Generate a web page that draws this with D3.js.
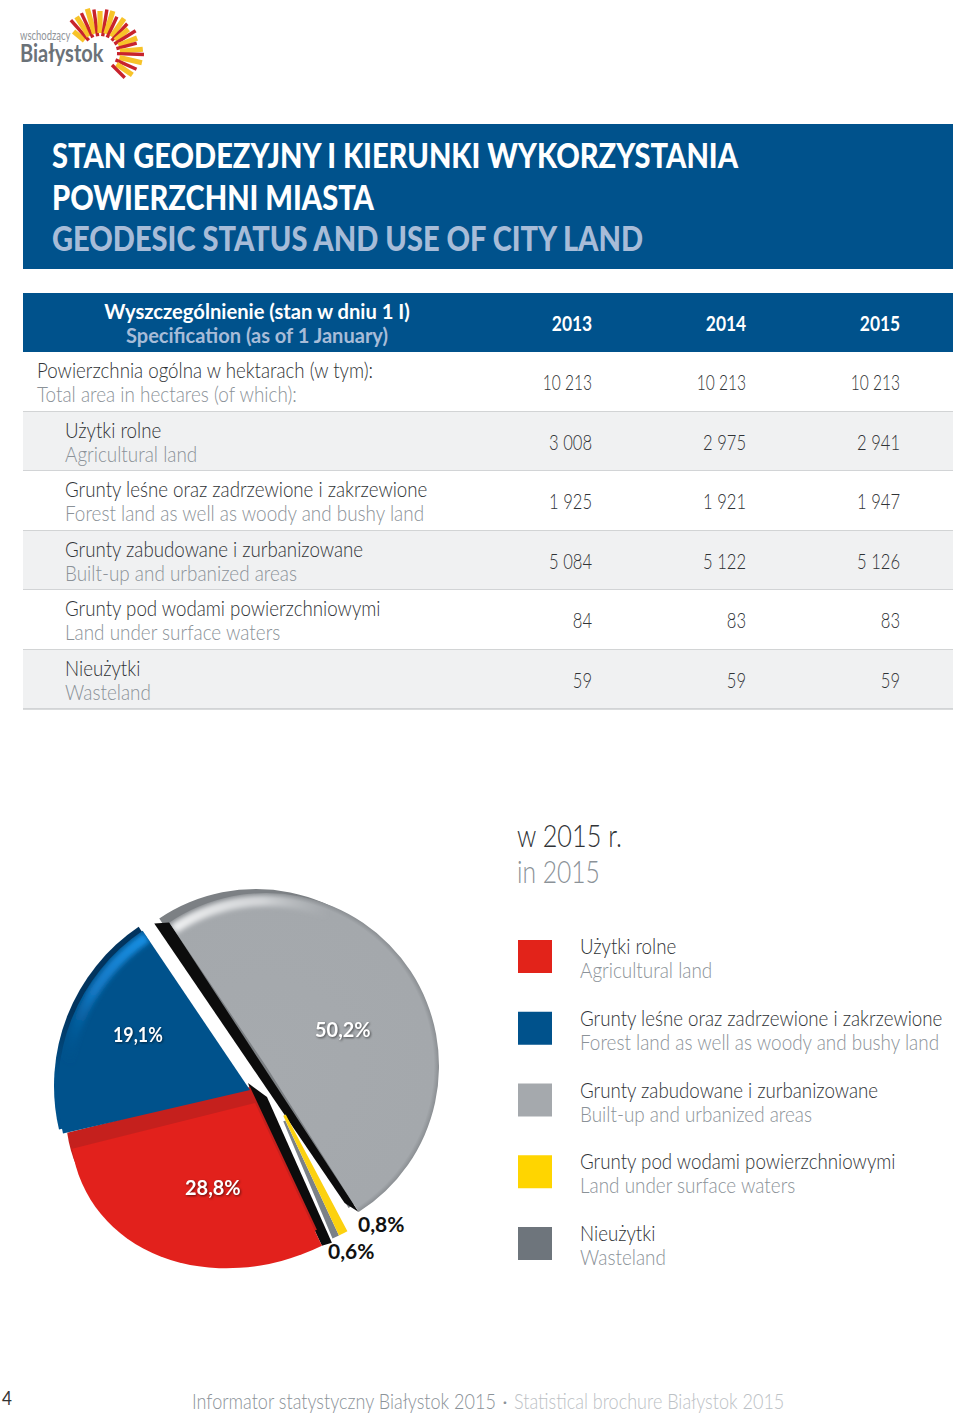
<!DOCTYPE html>
<html><head><meta charset="utf-8">
<script src="https://cdn.jsdelivr.net/npm/d3@7"></script>
<style>html,body{margin:0;padding:0;background:#fff}svg{display:block}text{font-family:Lato,"Noto Sans",sans-serif}</style>
</head><body><svg id="c" width="960" height="1413"></svg>
<script>
const titlePL=["STAN GEODEZYJNY I KIERUNKI WYKORZYSTANIA","POWIERZCHNI MIASTA"];
const titleEN=["GEODESIC STATUS AND USE OF CITY LAND"];
const years=["2013","2014","2015"];
const rowsPL=["Powierzchnia ogólna w hektarach (w tym):","Użytki rolne","Grunty leśne oraz zadrzewione i zakrzewione","Grunty zabudowane i zurbanizowane","Grunty pod wodami powierzchniowymi","Nieużytki"];
const rowsEN=["Total area in hectares (of which):","Agricultural land","Forest land as well as woody and bushy land","Built-up and urbanized areas","Land under surface waters","Wasteland"];
const v2013=["10 213","3 008","1 925","5 084","84","59"];
const v2014=["10 213","2 975","1 921","5 122","83","59"];
const v2015=["10 213","2 941","1 947","5 126","83","59"];
const shares=[50.2,0.8,0.6,28.8,19.1];
const shareLabels=["50,2%","0,8%","0,6%","28,8%","19,1%"];
const legendPL=rowsPL.slice(1);
const legendEN=rowsEN.slice(1);
const rayAngles=[-51,-41.5,-33,-25,-16,-8,0,9,17,25,35,43,50,58,68,75,85,92,103,114,124,135];
const rayOuter=[34,44,43,44,46,44,42,44,44,40,42,40,37,42,40,38,43,44,43,40,39,35];

const BLUE="#00528c",PLC="#303336",ENC="#8b9298",HL="#a7bcd8";
const svg=d3.select("#c");
const defs=svg.append("defs");
const TAU=2*Math.PI;
function txt(g,s,x,y,o={}){
  const k=o.k==null?0.9:o.k;
  return g.append("text").attr("transform",`translate(${x},${y}) scale(${k},1)`).text(s)
    .attr("font-size",o.size||21).attr("fill",o.fill||PLC).attr("font-weight",o.weight||300)
    .attr("text-anchor",o.anchor||"start");
}
// logo
const logo=svg.append("g");
txt(logo,"wschodzący",20,40,{size:12.5,fill:"#8f9499",k:0.76,weight:400});
txt(logo,"Białystok",20,62,{size:25,fill:"#6b7278",weight:700,k:0.8});
const ray=d3.lineRadial();
const logoC=logo.append("g").attr("transform","translate(100,53)");
logoC.selectAll("path").data(rayAngles).join("path")
  .attr("d",(a,i)=>ray([[a*Math.PI/180,i%2?17:20],[a*Math.PI/180,rayOuter[i]]]))
  .attr("stroke",(a,i)=>i%2?"#c8232c":"#f7c329").attr("stroke-width",(a,i)=>i%2?3.4:5.2).attr("fill","none");

// title
svg.append("rect").attr("x",23).attr("y",124).attr("width",930).attr("height",145).attr("fill",BLUE);
titlePL.forEach((s,i)=>txt(svg,s,52,168+i*41.5,{size:35,weight:900,fill:"#fff",k:0.83}));
titleEN.forEach(s=>txt(svg,s,52,251,{size:35,weight:900,fill:HL,k:0.83}));

// table
const rowY=d3.scaleLinear().domain([0,6]).range([352,709]);
const colX=d3.scalePoint().domain(years).range([592,900]);
svg.append("rect").attr("x",23).attr("y",293).attr("width",930).attr("height",59).attr("fill",BLUE);
txt(svg,"Wyszczególnienie (stan w dniu 1 I)",257,319,{size:21,weight:700,fill:"#fff",anchor:"middle",k:0.96});
txt(svg,"Specification (as of 1 January)",257,343,{size:21,weight:700,fill:HL,anchor:"middle",k:0.955});
years.forEach(y=>txt(svg,y,colX(y)-20,331,{size:21,weight:700,fill:"#fff",anchor:"middle",k:0.83}));
const rows=svg.append("g").selectAll("g").data(rowsPL).join("g");
rows.append("rect").attr("x",23).attr("y",(d,i)=>rowY(i)).attr("width",930).attr("height",(d,i)=>rowY(i+1)-rowY(i)).attr("fill",(d,i)=>i%2?"#f0f1f2":"#fff");
rows.append("line").attr("x1",23).attr("x2",953).attr("y1",(d,i)=>rowY(i+1)).attr("y2",(d,i)=>rowY(i+1)).attr("stroke","#b4b7b9").attr("stroke-width",1.2);
rowsPL.forEach((s,i)=>{
  const x=i?65:37,y=rowY(i);
  txt(svg,s,x,y+26,{k:0.892});
  txt(svg,rowsEN[i],x,y+50,{fill:ENC,k:0.9});
  [v2013,v2014,v2015].forEach((arr,j)=>txt(svg,arr[i],colX(years[j]),y+38,{anchor:"end",size:21,k:arr[i].length>5?.74:.79}));
});

// pie
const pie=d3.pie().sort(null).value(d=>d).startAngle(326/360*TAU).endAngle((326+360)/360*TAU);
const [aGray,aYel,aWaste,aRed,aBlue]=pie(shares);
const path=(r)=>d3.arc().innerRadius(0).outerRadius(r);
const pt=(r,ang)=>[r*Math.sin(ang),-r*Math.cos(ang)];
const soft=defs.append("filter").attr("id","soft").attr("x","-20%").attr("y","-20%").attr("width","140%").attr("height","140%");
soft.append("feGaussianBlur").attr("stdDeviation",2.4);
function clip(id,d){defs.append("clipPath").attr("id",id).append("path").attr("d",d);}
function linear(id,x1,y1,x2,y2,stops){
  const g=defs.append("linearGradient").attr("id",id).attr("gradientUnits","userSpaceOnUse").attr("x1",x1).attr("y1",y1).attr("x2",x2).attr("y2",y2);
  stops.forEach(s=>g.append("stop").attr("offset",s[0]).attr("stop-color",s[1]).attr("stop-opacity",s[2]==null?1:s[2]));
}
function radial(id,r,stops){
  const g=defs.append("radialGradient").attr("id",id).attr("gradientUnits","userSpaceOnUse").attr("cx",0).attr("cy",0).attr("r",r);
  stops.forEach(s=>g.append("stop").attr("offset",s[0]).attr("stop-color",s[1]));
}
const P=svg.append("g");
// gray slice
const gc=[266,1066],gr=173;
radial("gGray",gr,[[0,"#a6aaae"],[.97,"#a4a8ac"],[1,"#8a8e92"]]);
linear("gGrayRim",-95,-140,60,-160,[[0,"#f0f1f2",1],[.6,"#dfe1e3",.8],[1,"#c5c8cb",0]]);
clip("cGray",path(gr)(aGray));
const G=P.append("g").attr("transform",`translate(${gc})`);
G.append("path").attr("d",path(gr)(aGray)).attr("transform","translate(-10,-4)").attr("fill","#7c8084");
const g0=pt(gr,aGray.startAngle),g1=pt(gr,aGray.endAngle);
G.append("path").attr("d",d3.line()([[g0[0]-15,g0[1]+1],g0,g1,[g1[0]-14,g1[1]-9]])).attr("fill","#0c0c0c");
G.append("path").attr("d",path(gr)(aGray)).attr("fill","url(#gGray)");
G.append("g").attr("clip-path","url(#cGray)").append("path")
  .attr("d",d3.arc().innerRadius(gr-13).outerRadius(gr-3).startAngle(aGray.startAngle).endAngle(aGray.startAngle+1.0)())
  .attr("fill","url(#gGrayRim)").attr("filter","url(#soft)");
// thin slices, tilted slightly by the picture's perspective
const tC=[260,1066];
P.append("path").attr("transform",`translate(${tC}) rotate(4.5)`).attr("d",d3.arc().innerRadius(60).outerRadius(187)(aWaste)).attr("fill","#7b8187");
// red slice: a pie wedge sheared by the tilt
const rM=[183.2,-8.5,-19.3,165,255,1103];
const rApply=p=>[rM[0]*p[0]+rM[2]*p[1]+rM[4],rM[1]*p[0]+rM[3]*p[1]+rM[5]];
const unitArc=d3.arc().innerRadius(0).outerRadius(1)(aRed);
const rTip=rApply(pt(1,aRed.startAngle));
const rA=rApply([0,0]);
P.append("path").attr("d",d3.line()([[rA[0]-7,rA[1]-20],[rA[0]+12,rA[1]-6],[rTip[0]+10,rTip[1]-3],rTip,rA])).attr("fill","#0c0c0c");
P.append("path").attr("transform",`translate(${tC}) rotate(4.5)`).attr("d",d3.arc().innerRadius(55).outerRadius(187)(aYel)).attr("fill","#fcd10f");
const R=P.append("g");
R.append("path").attr("d",unitArc).attr("transform",`translate(-5,-16) matrix(${rM})`).attr("fill","#c5201d");
R.append("path").attr("d",unitArc).attr("transform",`matrix(${rM})`).attr("fill","#e2211c");
// blue slice
const bc=[250,1090],br=192;
linear("gBlueRim",-100,-170,-170,-20,[[0,"#1b94ea",1],[.55,"#1277c2",1],[1,"#00528c",0]]);
linear("gBlueBack",0,-170,0,-10,[[0,"#02345e"],[.6,"#02345e"],[1,"#00528c"]]);
clip("cBlue",path(br)(aBlue));
const B=P.append("g").attr("transform",`translate(${bc})`);
B.append("path").attr("d",path(br)(aBlue)).attr("transform","translate(-4,-4)").attr("fill","url(#gBlueBack)");
B.append("path").attr("d",path(br)(aBlue)).attr("fill","#00528c");
B.append("g").attr("clip-path","url(#cBlue)").append("path")
  .attr("d",d3.arc().innerRadius(br-13).outerRadius(br-2).startAngle(aBlue.startAngle).endAngle(aBlue.endAngle)())
  .attr("fill","url(#gBlueRim)").attr("filter","url(#soft)");

const label=(s,x,y,fill,shadow,k)=>{
  const t=txt(svg,s,x,y,{size:21,weight:700,fill,k:k||0.95});
  if(shadow) t.style("filter","drop-shadow(1px 1px 1px rgba(0,0,0,.55))");
};
label(shareLabels[4],113,1042,"#fff",true,.85);
label(shareLabels[0],315,1037,"#fff",true);
label(shareLabels[3],185,1195,"#fff",true);
label(shareLabels[1],358,1232,"#111",false,1);
label(shareLabels[2],328,1259,"#111",false,1);

// legend
txt(svg,"w 2015 r.",517,847,{size:32,k:.79});
txt(svg,"in 2015",517,883,{size:32,fill:ENC,k:.77});
const legColors=["#e2231a","#00528c","#a5a9ad","#ffd500","#6e757c"];
const legY=d3.scaleLinear().domain([0,4]).range([940,1227]);
legendPL.forEach((s,i)=>{
  svg.append("rect").attr("x",518).attr("y",legY(i)).attr("width",34).attr("height",33).attr("fill",legColors[i]);
  txt(svg,s,580,legY(i)+14,{k:.892});
  txt(svg,legendEN[i],580,legY(i)+38,{fill:ENC,k:.9});
});
// footer
txt(svg,"4",2,1405,{size:19,fill:"#333",k:.9,weight:400});
txt(svg,"Informator statystyczny Białystok 2015",192,1409,{size:22,fill:"#8b9298",k:.82});
txt(svg,"·",503,1407,{size:14,fill:"#8b9298",k:1,weight:700});
txt(svg,"Statistical brochure Białystok 2015",514,1409,{size:22,fill:"#bcc1c5",k:.82});
</script></body></html>
